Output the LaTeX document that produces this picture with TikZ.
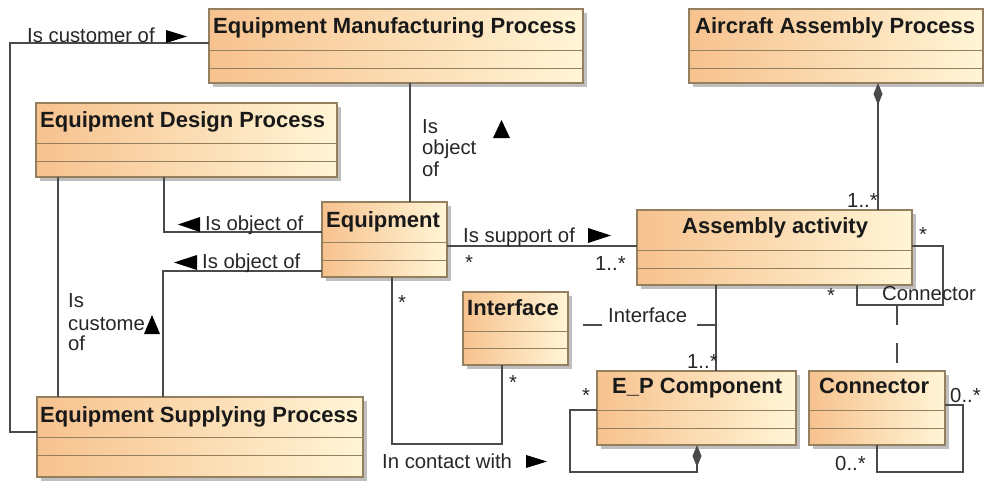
\documentclass[tikz,border=0pt]{standalone}
\usepackage{fontspec}
\setmainfont{Liberation Sans}
\usetikzlibrary{shadows,arrows.meta}
\definecolor{boxL}{HTML}{F7C28E}
\definecolor{boxR}{HTML}{FFF5D6}
\definecolor{boxB}{HTML}{94805E}
\definecolor{lineC}{HTML}{4A4A4A}
\tikzset{
  umlbox/.style={draw=boxB, line width=1.1pt, left color=boxL, right color=boxR,
    inner sep=0pt, outer sep=0pt,
    drop shadow={shadow xshift=3.5pt, shadow yshift=-3.5pt, fill=black!50, opacity=0.5}},
  comp/.style={draw=boxB, line width=1pt},
  ttl/.style={font=\fontsize{22}{24}\selectfont\bfseries, inner sep=0pt, anchor=base west, text=black!90},
  lbl/.style={font=\fontsize{20.3}{22}\selectfont, inner sep=0pt, anchor=base west, text=black!85},
  conn/.style={draw=lineC, line width=1.4pt},
  tri/.style={fill=black}
}
\newcommand\umlcls[7]{%
  \node[umlbox, anchor=north west, minimum width={#4pt-#2pt}, minimum height={#5pt-#3pt}] (#1) at (#2,#3) {};
  \draw[comp] (#2,#6) -- (#4,#6);
  \draw[comp] (#2,#7) -- (#4,#7);}
\begin{document}
\begin{tikzpicture}[x=1pt,y=-1pt]
\useasboundingbox (0,0) rectangle (984,482);
% classes
\umlcls{mfg}{209}{9}{583}{83}{50}{68}
\umlcls{air}{689}{9}{983}{83}{50}{68}
\umlcls{des}{36}{103}{337}{177}{143}{161}
\umlcls{eq}{322}{202}{447}{277}{242}{260}
\umlcls{asm}{637}{210}{912}{285}{250}{268}
\umlcls{ifc}{463}{292}{568}{365}{331}{348}
\umlcls{ep}{597}{371}{796}{445}{410}{428}
\umlcls{con}{809}{371}{945}{445}{410}{428}
\umlcls{sup}{37}{397}{363}{477}{437}{455}
\node[ttl] (tmfg) at (213,33) {Equipment Manufacturing Process};
\node[ttl] (tair) at (695,33) {Aircraft Assembly Process};
\node[ttl] (tdes) at (40,127) {Equipment Design Process};
\node[ttl] (teq) at (326,227) {Equipment};
\node[ttl] (tasm) at (682,233) {Assembly activity};
\node[ttl] (tifc) at (467,315) {Interface};
\node[ttl] (tep) at (612,393) {E\_P Component};
\node[ttl] (tcon) at (819,393) {Connector};
\node[ttl] (tsup) at (40,422) {Equipment Supplying Process};
% Is customer of (mfg - sup)
\draw[conn] (mfg.west |- 0,43) -- (10,43) -- (10,432) -- (sup.west |- 0,432);
\node[lbl] (l1) at (27,42) {Is customer of};
\fill[tri] (166,30) -- (187,36.5) -- (166,43) -- cycle;
% mfg - eq
\draw[conn] (mfg.south -| 410,0) -- (eq.north -| 410,0);
\node[lbl, align=left, anchor=north west] (l2) at (422,119) {Is\\[-0.5pt]object\\[-0.5pt]of};
\fill[tri] (493,138) -- (501.5,120) -- (510,138) -- cycle;
% des - eq
\draw[conn] (des.south -| 164,0) -- (164,232) -- (eq.west |- 0,232);
\node[lbl] (l3) at (205,230) {Is object of};
\fill[tri] (200,217) -- (178,224.5) -- (200,232) -- cycle;
% sup - eq
\draw[conn] (sup.north -| 163,0) -- (163,271) -- (eq.west |- 0,271);
\node[lbl] (l4) at (202,268) {Is object of};
\fill[tri] (197,255) -- (174,262.5) -- (197,270) -- cycle;
% des - sup
\draw[conn] (des.south -| 58,0) -- (sup.north -| 58,0);
\node[lbl, align=left, anchor=north west] (l5) at (68,293) {Is\\[1pt]custome\\[-2pt]of};
\fill[tri] (144,334) -- (152,315) -- (160,334) -- cycle;
% eq - asm
\draw[conn] (eq.east |- 0,246) -- (asm.west |- 0,246);
\node[lbl] (l6) at (463,242) {Is support of};
\fill[tri] (588,228) -- (611,235.5) -- (588,243) -- cycle;
\node[lbl] (m1) at (465,269) {*};
\node[lbl] (m2) at (595,270) {1..*};
% eq - ifc
\draw[conn] (eq.south -| 392,0) -- (392,444) -- (502,444) -- (ifc.south -| 502,0);
\node[lbl] (m3) at (398,309) {*};
\node[lbl] (m4) at (509,389) {*};
\node[lbl] (l7) at (382,468) {In contact with};
\fill[tri] (526,455) -- (547,461.5) -- (526,468) -- cycle;
% air - asm (composition)
\draw[conn, {Diamond[length=22pt,width=9pt]}-] (air.south -| 878,0) -- (asm.north -| 878,0);
\node[lbl] (m5) at (847,207) {1..*};
% asm - ep
\draw[conn] (asm.south -| 716,0) -- (ep.north -| 716,0);
\node[lbl] (m6) at (687,368) {1..*};
% association class Interface
\coordinate (ifcA) at (583,325);
\coordinate (asmEp) at (716,325);
\draw[conn, line width=1.2pt, dash pattern=on 19pt off 95pt] (ifcA) -- (asmEp);
\node[lbl] (l8) at (608,322) {Interface};
% asm self association Connector
\draw[conn] (asm.east |- 0,246) -- (943,246) -- (943,305) -- (857,305) -- (asm.south -| 857,0);
\node[lbl] (m7) at (919,241) {*};
\node[lbl] (m8) at (827,302) {*};
\node[lbl] (l9) at (882,300) {Connector};
\coordinate (selfA) at (897,305);
\draw[conn, line width=1.2pt, dash pattern=on 20pt off 18pt] (selfA) -- (con.north -| 897,0);
% con self
\draw[conn] (con.east |- 0,405) -- (963,405) -- (963,472) -- (877,472) -- (con.south -| 877,0);
\node[lbl] (m9) at (950,402) {0..*};
\node[lbl] (m10) at (835,470) {0..*};
% ep self (composition)
\draw[conn, -{Diamond[length=22pt,width=9pt]}] (ep.west |- 0,410) -- (570,410) -- (570,472) -- (697,472) -- (ep.south -| 697,0);
\node[lbl] (m11) at (582,402) {*};
\end{tikzpicture}
\end{document}
